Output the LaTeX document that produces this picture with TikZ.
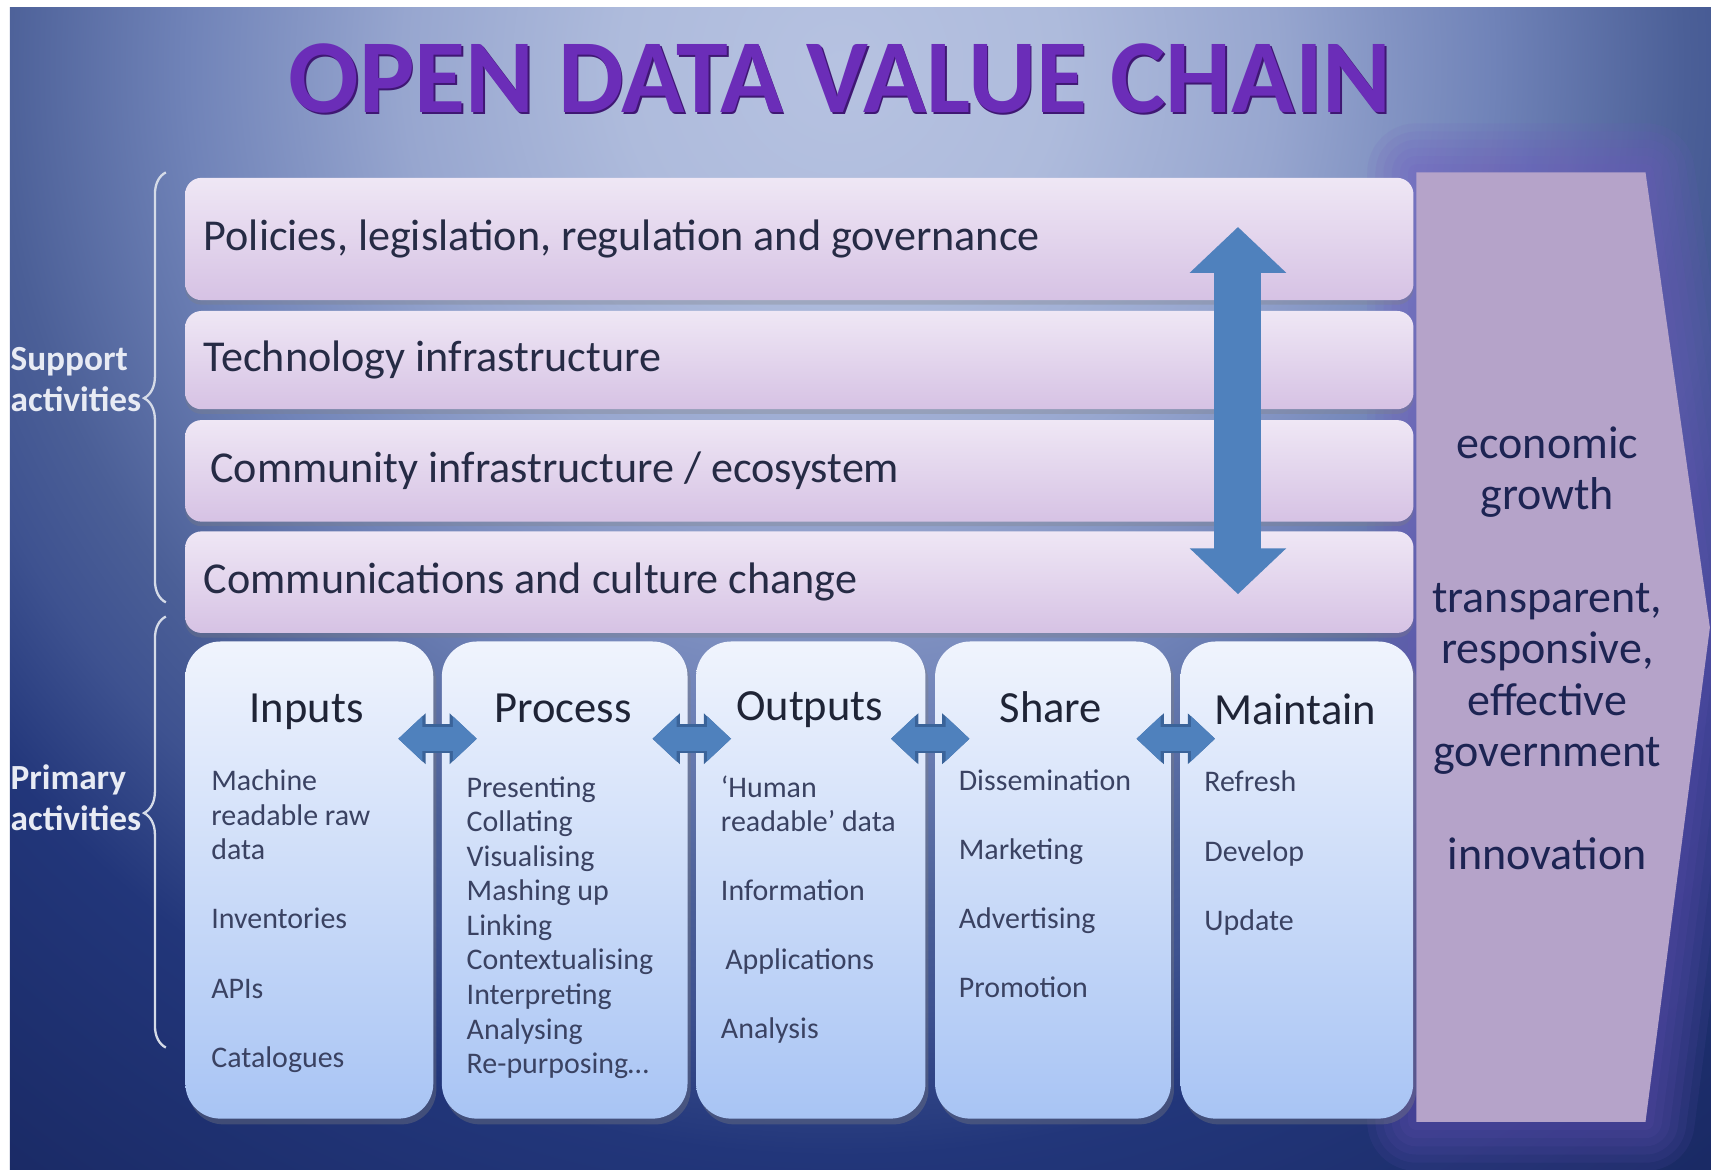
\documentclass[tikz,border=0pt]{standalone}
\usepackage{fontspec}
\setmainfont{Carlito}
\usepackage{graphicx}
\usepackage{xcolor}
\usetikzlibrary{arrows.meta}
\usetikzlibrary{shadows}
\usetikzlibrary{decorations.pathreplacing}
\usetikzlibrary{calc}

\definecolor{bgA}{HTML}{B6C2E1}
\definecolor{bgB}{HTML}{AEBBDC}
\definecolor{bgC}{HTML}{97A6CF}
\definecolor{bgD}{HTML}{7083B8}
\definecolor{bgE}{HTML}{4B5F97}
\definecolor{bgF}{HTML}{3E5290}
\definecolor{bgG}{HTML}{22367A}
\definecolor{bgH}{HTML}{1A2A65}
\definecolor{barTop}{HTML}{EFE7F5}
\definecolor{barBot}{HTML}{D6C2E4}
\definecolor{colTop}{HTML}{F0F4FD}
\definecolor{colBot}{HTML}{A8C4F4}
\definecolor{chev}{HTML}{B5A3C9}
\definecolor{chevglow}{HTML}{7058C0}
\definecolor{arrowblue}{HTML}{4F81BD}
\definecolor{arrowedge}{HTML}{3A6399}
\definecolor{titlepurple}{HTML}{6B2DB8}
\definecolor{titleshade}{HTML}{3F1773}
\definecolor{txtbar}{HTML}{262B45}
\definecolor{txtcol}{HTML}{3A4262}
\definecolor{txthead}{HTML}{1F2436}
\definecolor{txtchev}{HTML}{1D2453}
\definecolor{sidewhite}{HTML}{E8EBF4}
\definecolor{bracecol}{HTML}{D5DBE8}

% path box maps to +-25bp
\pgfdeclareradialshading{odvbg}{\pgfpoint{0bp}{0bp}}{color(0bp)=(bgA); color(3.85bp)=(bgB); color(7.7bp)=(bgC);
  color(11.5bp)=(bgD); color(14.9bp)=(bgE); color(16.7bp)=(bgF); color(19.2bp)=(bgG); color(24.6bp)=(bgH); color(50bp)=(bgH)}

\begin{document}
\begin{tikzpicture}[x=0.01cm,y=-0.01cm]
  \tikzstyle{every node}=[inner sep=0pt]
  \tikzstyle{bar}=[rounded corners=0.15cm, top color=barTop, bottom color=barBot,
    minimum width=11.25cm, text width=10.91cm, inner xsep=0.17cm, align=flush left,
    text=txtbar, font=\fontsize{11.5}{13}\selectfont,
    drop shadow={opacity=0.3, shadow xshift=0pt, shadow yshift=-1.2pt}]
  \tikzstyle{col}=[rounded corners=0.32cm, top color=colTop, bottom color=colBot,
    minimum height=4.37cm,
    drop shadow={opacity=0.35, shadow xshift=0.8pt, shadow yshift=-1.5pt}]
  \tikzstyle{head}=[anchor=base, text=txthead, font=\fontsize{11.6}{13}\selectfont]
  \tikzstyle{items}=[anchor=north west, align=flush left, text=txtcol, font=\fontsize{7.8}{9}\selectfont]
  \tikzstyle{side}=[anchor=west, align=flush left, text=sidewhite, font=\bfseries\fontsize{9.2}{10.8}\selectfont]
  \tikzstyle{vlink}=[draw=arrowblue, line width=0.43cm,
    {Triangle[width=0.86cm,length=0.42cm]}-{Triangle[width=0.86cm,length=0.42cm]}]
  \tikzstyle{hlink}=[draw=arrowblue, line width=0.22cm,
    {Triangle[width=0.40cm,length=0.22cm]}-{Triangle[width=0.40cm,length=0.22cm]},
    preaction={draw=arrowedge, line width=0.27cm,
      {Triangle[width=0.45cm,length=0.25cm]}-{Triangle[width=0.45cm,length=0.25cm]}}]
  \tikzstyle{curly}=[draw=bracecol, line width=0.6pt, decorate]

  % background
  \useasboundingbox (0,0) rectangle (1568,1072);
  \begin{scope}
    \clip (9,7) rectangle (1568,1072);
    \shade[shading=odvbg] (770,60) circle [radius=13cm];
  \end{scope}

  % title
  \node[text=titleshade] (titleshadow) at (771.5,73.5) {\resizebox{10.1cm}{0.63cm}{\bfseries OPEN DATA VALUE CHAIN}};
  \node[text=titlepurple] (title) at (770,71.5) {\resizebox{10.1cm}{0.63cm}{\bfseries OPEN DATA VALUE CHAIN}};

  % outcome chevron
  \foreach \w in {0.9,0.75,0.6,0.45,0.3,0.15}
    \draw[draw=chevglow, line width=\w cm, opacity=0.1, line join=round]
      (1298,158) -- (1508,158) -- (1567,575) -- (1508,1028) -- (1298,1028) -- cycle;
  \fill[chev] (1298,158) -- (1508,158) -- (1567,575) -- (1508,1028) -- (1298,1028) -- cycle;
  \node[anchor=north, align=center, text=txtchev, font=\fontsize{12}{13.4}\selectfont] (outcome) at (1418,390)
    {economic\\growth\\[13.4pt]transparent,\\responsive,\\effective\\government\\[13.4pt]innovation};

  % support activities
  \node[bar, minimum height=1.12cm] (bar1) at (732.5,219) {Policies, legislation, regulation and governance};
  \node[bar, minimum height=0.90cm] (bar2) at (732.5,330) {Technology infrastructure};
  \node[bar, minimum height=0.93cm] (bar3) at (732.5,431.5) {\hspace*{0.06cm}Community infrastructure / ecosystem};
  \node[bar, minimum height=0.93cm] (bar4) at (732.5,533.5) {Communications and culture change};
  \draw[vlink] ($(bar1)+(402,-11)$) -- ($(bar4)+(402,11)$);

  % primary activities
  \node[col, minimum width=2.27cm] (inputs)   at (283.5,806.5) {};
  \node[col, minimum width=2.25cm] (process)  at (517.5,806.5) {};
  \node[col, minimum width=2.10cm] (outputs)  at (743,806.5) {};
  \node[col, minimum width=2.16cm] (share)    at (965,806.5) {};
  \node[col, minimum width=2.13cm] (maintain) at (1188.5,806.5) {};

  \node[head] (inputs-h)   at (281,662)  {Inputs};
  \node[head] (process-h)  at (516,662)  {Process};
  \node[head] (outputs-h)  at (742,660)  {Outputs};
  \node[head] (share-h)    at (963,662)  {Share};
  \node[head] (maintain-h) at (1187,664) {Maintain};

  \node[items] (inputs-t) at (193,705)
    {Machine\\readable raw\\data\\[9pt]Inventories\\[9pt]APIs\\[9pt]Catalogues};
  \node[items] (process-t) at (427,711)
    {Presenting\\Collating\\Visualising\\Mashing up\\Linking\\Contextualising\\Interpreting\\Analysing\\Re-purposing\dots};
  \node[items] (outputs-t) at (660,710)
    {`Human\\readable' data\\[9pt]Information\\[9pt]\hspace*{0.04cm}Applications\\[9pt]Analysis};
  \node[items] (share-t) at (878,705)
    {Dissemination\\[9pt]Marketing\\[9pt]Advertising\\[9pt]Promotion};
  \node[items] (maintain-t) at (1103,706)
    {Refresh\\[9pt]Develop\\[9pt]Update};

  \foreach \a/\b in {inputs/process,process/outputs,outputs/share,share/maintain}
    \draw[hlink] ($(\a.east)!0.5!(\b.west)+(-36,-129.5)$) -- ($(\a.east)!0.5!(\b.west)+(36,-129.5)$);

  % braces and side labels
  \draw[curly, decoration={brace, amplitude=0.2cm, aspect=0.475}] (152,552) -- (152,158);
  \draw[curly, decoration={brace, amplitude=0.2cm, aspect=0.544}] (152,960) -- (152,565);
  \node[side] (support) at (9,348) {Support\\activities};
  \node[side] (primary) at (9,731) {Primary\\activities};
\end{tikzpicture}
\end{document}
